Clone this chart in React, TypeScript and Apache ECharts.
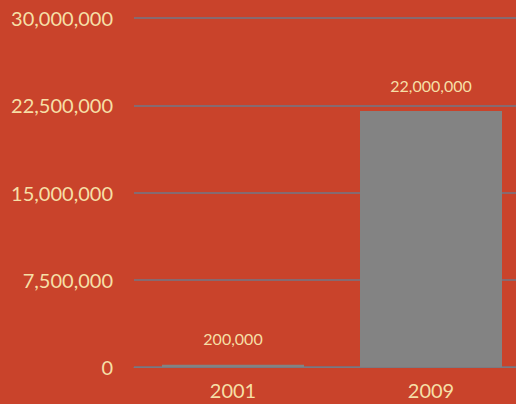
import React, { useEffect, useRef } from "react";
import * as echarts from "echarts";

const categories = ["2001", "2009"];
const values = [200000, 22000000];
const yTicks = [0, 7500000, 15000000, 22500000, 30000000];

const fmt = (v: number) => v.toLocaleString("en-US");

export default function App() {
  const ref = useRef<HTMLDivElement>(null);
  useEffect(() => {
    if (!ref.current) return;
    const chart = echarts.init(ref.current, null, { renderer: "svg" });
    const textColor = "#f6dfa6";
    const font = "Lato, 'Open Sans', sans-serif";
    chart.setOption({
      animation: false,
      backgroundColor: "#c9432b",
      grid: { left: 134, top: 18, width: 396, height: 349, outerBoundsMode: "none", containLabel: false },
      xAxis: {
        type: "category",
        data: categories,
        axisLine: { show: true, lineStyle: { color: "#7a7a82", width: 1 } },
        axisTick: { show: false },
        axisLabel: { color: textColor, fontSize: 20, fontFamily: font, margin: 13 },
      },
      yAxis: {
        type: "value",
        min: yTicks[0],
        max: yTicks[yTicks.length - 1],
        interval: yTicks[1] - yTicks[0],
        axisLine: { show: false },
        axisTick: { show: false },
        splitLine: { lineStyle: { color: "#6f7788", width: 1.5 } },
        axisLabel: {
          color: textColor,
          fontSize: 20,
          fontFamily: font,
          margin: 21,
          formatter: (v: number) => fmt(v),
        },
      },
      series: [
        {
          type: "bar",
          data: values,
          barWidth: 142,
          itemStyle: { color: "#838383" },
          label: {
            show: true,
            position: "top",
            distance: 18,
            color: textColor,
            fontSize: 16,
            fontFamily: font,
            formatter: (p: any) => fmt(p.value),
          },
        },
      ],
    });
    return () => chart.dispose();
  }, []);
  return (
    <div
      ref={ref}
      style={{ position: "fixed", left: 0, top: 0, width: 516, height: 404 }}
    />
  );
}
